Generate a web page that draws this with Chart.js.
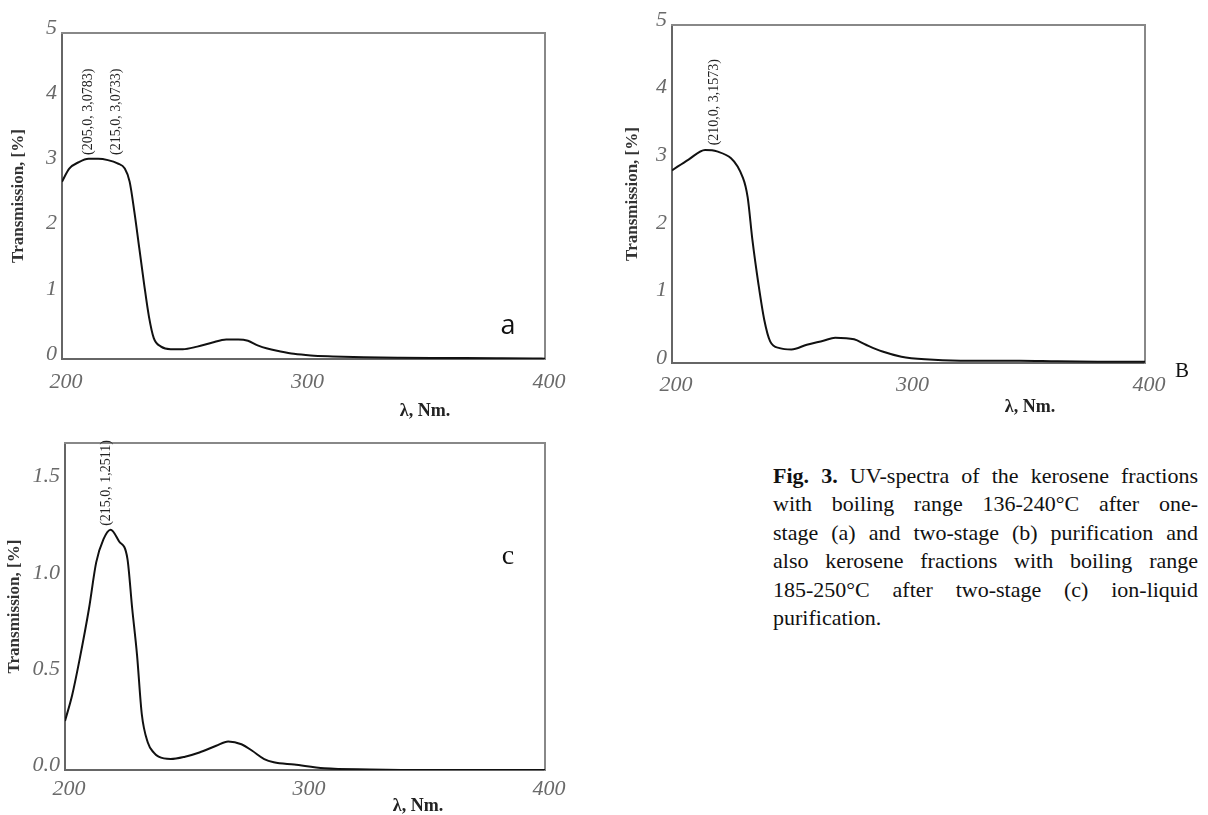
<!DOCTYPE html>
<html><head><meta charset="utf-8">
<script src="https://cdn.jsdelivr.net/npm/chart.js@4.4.1/dist/chart.umd.min.js"></script>
<style>
html,body{margin:0;padding:0;background:#fff;}
body{width:1208px;height:815px;position:relative;overflow:hidden;font-family:"Liberation Serif",serif;}
canvas{position:absolute;}
.lbl{position:absolute;white-space:nowrap;transform:translate(-50%,-50%);}
.xt{font:bold 18px "Liberation Serif",serif;color:#222;}
#cap{position:absolute;left:773px;top:462px;width:425px;font:22px/28.4px "Liberation Serif",serif;color:#111;}
#cap .ln{display:flex;justify-content:space-between;height:28.4px;white-space:nowrap;}
#cap .last{display:block;}
</style>
</head><body>
<canvas id="cA" width="600" height="425" style="left:0;top:0"></canvas>
<canvas id="cB" width="598" height="425" style="left:610px;top:0"></canvas>
<canvas id="cC" width="600" height="390" style="left:0;top:425px"></canvas>

<div class="lbl xt" style="left:425px;top:410px">λ, Nm.</div>
<div class="lbl xt" style="left:1030px;top:406px">λ, Nm.</div>
<div class="lbl xt" style="left:418px;top:805px">λ, Nm.</div>

<div class="lbl" style="left:508px;top:323px;font:27px 'Open Sans',sans-serif;color:#111">a</div>
<div class="lbl" style="left:1182px;top:370px;font:21px 'Liberation Serif',serif;color:#111">B</div>
<div class="lbl" style="left:508px;top:555px;font:28px 'Liberation Serif',serif;color:#111">c</div>

<div id="cap">
<div class="ln"><span><b>Fig.</b></span><span><b>3.</b></span><span>UV-spectra</span><span>of</span><span>the</span><span>kerosene</span><span>fractions</span></div>
<div class="ln"><span>with</span><span>boiling</span><span>range</span><span>136-240°C</span><span>after</span><span>one-</span></div>
<div class="ln"><span>stage</span><span>(a)</span><span>and</span><span>two-stage</span><span>(b)</span><span>purification</span><span>and</span></div>
<div class="ln"><span>also</span><span>kerosene</span><span>fractions</span><span>with</span><span>boiling</span><span>range</span></div>
<div class="ln"><span>185-250°C</span><span>after</span><span>two-stage</span><span>(c)</span><span>ion-liquid</span></div>
<div class="ln last">purification.</div>
</div>

<script>
// ---- data ----
const xTickValues = [200, 300, 400];
const yTicksAB = [0, 1, 2, 3, 4, 5];
const yTicksC = [0, 0.5, 1.0, 1.5];

const lambdaA = [200,203,207,211,215,219,223,226,228,230,232,234,236,238,241,245,250,256,262,268,273,277,281,285,290,296,303,312,325,340,360,380,395,400];
const transA  = [2.72,2.92,3.02,3.07,3.07,3.05,3.00,2.92,2.72,2.25,1.70,1.15,0.65,0.32,0.19,0.15,0.15,0.19,0.25,0.30,0.30,0.28,0.21,0.16,0.12,0.08,0.055,0.04,0.025,0.018,0.015,0.012,0.008,0.005];

const lambdaB = [200,207,214,219,230,232,234,236.5,239,241.5,245.5,250.5,257,264,269,277,282,289,297,307,322,347,363,380,400];
const transB  = [2.85,3.01,3.15,3.13,2.74,2.45,1.82,1.18,0.64,0.32,0.22,0.20,0.27,0.33,0.375,0.35,0.27,0.17,0.094,0.054,0.035,0.035,0.025,0.02,0.02];

const lambdaC = [200,203,206,210,213,216,219,222.5,226,228,230,232,234.5,237,239,244,250,256,263,268,273.5,278,283,287,295.5,308,327,352,400];
const transC  = [0.255,0.39,0.57,0.84,1.08,1.20,1.25,1.19,1.10,0.84,0.60,0.29,0.143,0.09,0.069,0.057,0.069,0.091,0.126,0.148,0.134,0.10,0.057,0.040,0.028,0.009,0.003,0.0,0.0];

const peakTextsA = ['(205,0, 3,0783)', '(215,0, 3,0733)'];
const peakXA = [210.7, 222.7];
const peakYA = [3.13, 3.13];
const peakTextsB = ['(210,0, 3,1573)'];
const peakXB = [218];
const peakYB = [3.22];
const peakTextsC = ['(215,0, 1,2511)'];
const peakXC = [217.3];
const peakYC = [1.27];

const yTitle = 'Transmission, [%]';

// ---- plugin drawing rotated peak labels at data coordinates ----
const peakLabels = {
  id: 'peakLabels',
  afterDatasetsDraw(chart, args, opts) {
    const ctx = chart.ctx;
    const xs = chart.scales.x, ys = chart.scales.y;
    ctx.save();
    ctx.font = '14px "Liberation Serif", serif';
    ctx.fillStyle = '#222';
    ctx.textBaseline = 'middle';
    ctx.textAlign = 'left';
    opts.texts.forEach((t, i) => {
      const px = xs.getPixelForValue(opts.xs[i]);
      const py = ys.getPixelForValue(opts.ys[i]);
      ctx.save();
      ctx.translate(px, py);
      ctx.rotate(-Math.PI / 2);
      ctx.fillText(t, 0, 0);
      ctx.restore();
    });
    ctx.restore();
  }
};

function makeChart(id, g) {
  const tickFont = {family: '"Liberation Serif", serif', size: 22, style: 'italic'};
  const pts = g.lambda.map((l, i) => ({x: l, y: g.trans[i]}));
  return new Chart(document.getElementById(id), {
    type: 'line',
    data: {datasets: [{
      data: pts, borderColor: '#111', borderWidth: 2, pointRadius: 0,
      cubicInterpolationMode: 'monotone', fill: false
    }]},
    options: {
      responsive: false, animation: false, events: [],
      layout: {padding: {top: g.top, right: g.right, left: 0, bottom: 0}},
      plugins: {legend: {display: false}, tooltip: {enabled: false},
        peakLabels: {texts: g.peakTexts, xs: g.peakX, ys: g.peakY}},
      scales: {
        x: {type: 'linear', min: 200, max: 400,
          afterBuildTicks: s => { s.ticks = xTickValues.map(v => ({value: v})); },
          ticks: {font: tickFont, color: '#6a6a6a', padding: g.xPad, labelOffset: 4, maxRotation: 0},
          grid: {display: false, drawTicks: false},
          border: {display: true, color: '#666', width: 2},
          afterFit: s => { s.height = g.xH; }
        },
        y: {type: 'linear', min: 0, max: g.ymax,
          afterBuildTicks: s => { s.ticks = g.yTicks.map(v => ({value: v})); },
          ticks: {font: tickFont, color: '#6a6a6a', padding: 5, labelOffset: -5,
            callback: v => g.dec ? Number(v).toFixed(1) : String(v)},
          grid: {display: false, drawTicks: false},
          border: {display: true, color: '#666', width: 2},
          title: {display: true, text: yTitle, color: '#333',
            font: {family: '"Liberation Serif", serif', size: 17, weight: 'bold'},
            padding: {top: g.tPad, bottom: 0}},
          afterFit: s => { s.width = g.yW; }
        },
        x2: {type: 'linear', position: 'top', min: 200, max: 400,
          ticks: {display: false}, grid: {display: false, drawTicks: false},
          border: {display: true, color: '#888', width: 2},
          afterFit: s => { s.height = 0; }
        },
        y2: {type: 'linear', position: 'right', min: 0, max: g.ymax,
          ticks: {display: false}, grid: {display: false, drawTicks: false},
          border: {display: true, color: '#888', width: 2},
          afterFit: s => { s.width = 0; }
        }
      }
    },
    plugins: [peakLabels]
  });
}

makeChart('cA', {lambda: lambdaA, trans: transA, ymax: 5, yTicks: yTicksAB, dec: false,
  top: 33, right: 55, yW: 62, xH: 66, xPad: 10, tPad: 8,
  peakTexts: peakTextsA, peakX: peakXA, peakY: peakYA});
makeChart('cB', {lambda: lambdaB, trans: transB, ymax: 5, yTicks: yTicksAB, dec: false,
  top: 25, right: 63, yW: 62, xH: 62, xPad: 9, tPad: 12,
  peakTexts: peakTextsB, peakX: peakXB, peakY: peakYB});
makeChart('cC', {lambda: lambdaC, trans: transC, ymax: 1.7, yTicks: yTicksC, dec: true,
  top: 13, right: 55, yW: 65, xH: 45, xPad: 6, tPad: 4,
  peakTexts: peakTextsC, peakX: peakXC, peakY: peakYC});
</script>
</body></html>
